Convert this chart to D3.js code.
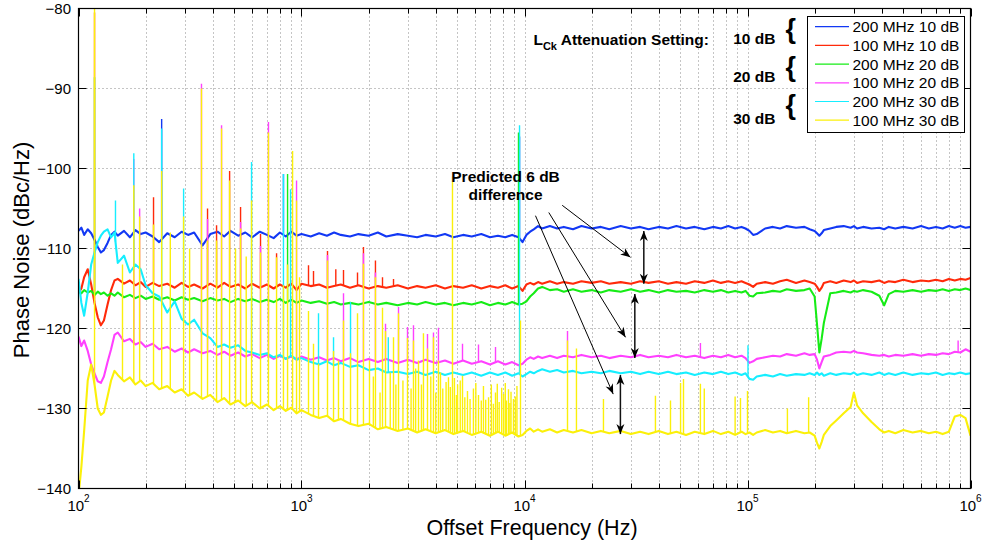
<!DOCTYPE html>
<html>
<head>
<meta charset="utf-8">
<script src="https://cdn.jsdelivr.net/npm/d3@7"></script>
<style>
  body { margin: 0; background: #fff; }
  svg { display: block; font-family: "Liberation Sans", Arial, Helvetica, sans-serif; }
</style>
</head>
<body>
<div id="chart"></div>
<script>
// ---- data (Hz, dBc/Hz) ----
const freqs = [
  100, 103, 106, 110, 114, 118, 122, 126, 130, 135,
  140, 145, 150, 160, 170, 180, 190, 200, 215, 230,
  250, 270, 290, 310, 330, 360, 390, 420, 450, 480,
  520, 560, 600, 650, 700, 750, 800, 850, 900, 950,
  1000, 1100, 1200, 1300, 1400, 1500, 1650, 1800, 2000, 2200,
  2400, 2700, 3000, 3300, 3600, 4000, 4400, 4800, 5300, 5800,
  6400, 7000, 7600, 8200, 8800, 9400, 9800, 10200, 10600, 11000,
  11500, 12000, 13000, 14000, 15000, 16500, 18000, 20000, 22000, 24000,
  27000, 30000, 33000, 36000, 40000, 44000, 48000, 53000, 58000, 64000,
  70000, 76000, 82000, 88000, 94000, 98000, 102000, 106000, 110000, 120000,
  130000, 140000, 150000, 165000, 180000, 190000, 200000, 205000, 210000, 215000,
  220000, 235000, 250000, 270000, 290000, 300000, 310000, 330000, 360000, 390000,
  410000, 430000, 460000, 500000, 550000, 600000, 650000, 700000, 750000, 800000,
  850000, 900000, 950000, 1000000
];

const seriesNames = ["200 MHz 10 dB", "100 MHz 10 dB", "200 MHz 20 dB", "100 MHz 20 dB", "200 MHz 30 dB", "100 MHz 30 dB"];
const seriesColors = ["#1238f4", "#ff2a0a", "#16ec16", "#ff40ff", "#16eeff", "#fbf00a"];

const blue200_10 = [
  -107.8,-107.4,-108.3,-107.6,-108.1,-108.9,-109.8,-110.5,-110.2,-109.3,
  -108.3,-107.9,-108.4,-107.8,-108.6,-107.7,-108.2,-108.0,-108.5,-109.2,
  -108.1,-108.6,-107.9,-108.3,-108.0,-109.6,-108.2,-107.9,-108.5,-107.8,
  -108.4,-108.0,-108.6,-107.9,-108.3,-108.7,-108.0,-108.5,-107.9,-108.4,
  -108.2,-108.5,-108.1,-108.4,-108.0,-108.3,-108.5,-108.2,-108.4,-108.0,
  -108.5,-108.2,-108.4,-108.6,-108.3,-108.5,-108.2,-108.6,-108.3,-108.5,
  -108.2,-108.6,-108.4,-108.6,-108.3,-108.6,-109.2,-108.3,-107.9,-107.6,
  -107.2,-107.5,-107.2,-107.5,-107.3,-107.6,-107.2,-107.5,-107.3,-107.6,
  -107.2,-107.5,-107.3,-107.6,-107.3,-107.5,-107.2,-107.5,-107.3,-107.6,
  -107.3,-107.5,-107.2,-107.5,-107.3,-107.5,-107.8,-108.3,-108.2,-107.5,
  -107.3,-107.5,-107.2,-107.4,-107.3,-107.6,-107.8,-108.1,-108.4,-108.1,
  -107.7,-107.5,-107.3,-107.2,-107.4,-107.2,-107.5,-107.3,-107.5,-107.4,
  -107.6,-107.3,-107.5,-107.3,-107.5,-107.2,-107.5,-107.3,-107.5,-107.2,
  -107.4,-107.2,-107.4,-107.3
];
const red100_10 = [
  -115.6,-115.0,-113.6,-112.6,-114.5,-116.8,-118.6,-119.6,-119.0,-117.0,
  -115.2,-114.0,-113.8,-114.4,-114.0,-114.6,-114.2,-114.8,-114.3,-114.7,
  -114.4,-114.9,-114.3,-114.8,-114.5,-115.0,-114.4,-114.9,-114.3,-114.8,
  -114.5,-115.0,-114.4,-114.9,-114.5,-115.0,-114.5,-114.9,-114.4,-115.2,
  -114.4,-114.7,-114.5,-114.9,-114.7,-114.5,-114.9,-114.6,-115.0,-114.7,
  -114.9,-114.6,-115.0,-114.7,-114.9,-114.6,-115.0,-114.7,-114.9,-114.6,
  -115.0,-114.7,-114.9,-114.6,-115.0,-114.7,-115.3,-114.5,-114.3,-114.5,
  -114.2,-114.4,-114.1,-114.4,-114.2,-114.4,-114.1,-114.3,-114.1,-114.4,
  -114.2,-114.4,-114.1,-114.3,-114.1,-114.4,-114.2,-114.4,-114.1,-114.3,
  -114.0,-114.3,-114.1,-114.3,-114.1,-114.3,-114.5,-114.8,-114.4,-114.2,
  -114.4,-114.1,-113.9,-114.3,-114.0,-114.2,-114.4,-114.8,-115.3,-114.9,
  -114.3,-114.1,-114.3,-114.0,-114.2,-114.0,-114.3,-114.1,-114.2,-114.0,
  -114.3,-114.1,-114.2,-113.9,-114.2,-114.0,-114.1,-113.9,-114.1,-113.8,
  -114.0,-113.8,-113.9,-113.7
];
const green200_20 = [
  -115.3,-115.6,-115.2,-115.5,-115.3,-115.8,-115.4,-115.7,-115.5,-115.9,
  -115.6,-115.9,-115.5,-116.1,-115.8,-116.2,-115.9,-116.3,-116.0,-116.4,
  -116.1,-116.5,-116.1,-116.4,-116.2,-116.6,-116.2,-116.5,-116.3,-116.7,
  -116.3,-116.6,-116.3,-116.7,-116.4,-116.7,-116.3,-116.8,-116.4,-116.8,
  -116.5,-116.8,-116.6,-116.9,-116.7,-117.0,-116.8,-117.0,-116.7,-117.0,
  -116.8,-117.1,-116.8,-117.0,-116.7,-117.0,-116.8,-117.1,-116.8,-117.0,
  -116.7,-117.1,-116.8,-117.0,-116.7,-117.0,-116.9,-116.6,-116.0,-115.6,
  -115.0,-114.8,-115.2,-115.1,-115.4,-115.1,-115.4,-115.2,-115.5,-115.2,
  -115.4,-115.1,-115.4,-115.2,-115.5,-115.2,-115.4,-115.3,-115.5,-115.2,
  -115.4,-115.2,-115.5,-115.3,-115.5,-115.3,-115.9,-116.0,-115.6,-115.5,
  -115.3,-115.4,-115.1,-115.3,-115.2,-115.0,-116.0,-119.5,-123.0,-121.3,
  -119.3,-115.6,-115.5,-115.3,-115.5,-115.3,-115.4,-115.2,-115.4,-115.9,
  -117.1,-115.7,-115.3,-115.4,-115.2,-115.4,-115.2,-115.3,-115.1,-115.3,
  -115.1,-115.2,-115.0,-115.2
];
const magenta100_20 = [
  -121.0,-122.2,-121.5,-122.8,-124.5,-125.6,-126.6,-126.8,-126.0,-124.2,
  -122.6,-120.8,-120.5,-121.6,-121.3,-122.0,-121.7,-122.3,-121.9,-122.6,
  -122.3,-122.9,-122.5,-123.0,-122.6,-123.1,-122.8,-123.3,-122.9,-123.4,
  -123.0,-123.5,-123.2,-123.7,-123.3,-123.8,-123.4,-123.8,-123.5,-123.9,
  -123.5,-123.9,-123.6,-124.0,-123.7,-124.1,-123.7,-124.2,-123.8,-124.2,
  -123.8,-124.3,-123.9,-124.3,-123.9,-124.3,-124.0,-124.4,-124.0,-124.4,
  -124.1,-124.5,-124.1,-124.5,-124.2,-124.6,-124.4,-123.9,-123.6,-123.8,
  -123.5,-123.7,-123.4,-123.7,-123.4,-123.6,-123.3,-123.6,-123.4,-123.7,
  -123.4,-123.6,-123.3,-123.6,-123.4,-123.6,-123.3,-123.6,-123.4,-123.7,
  -123.4,-123.6,-123.3,-123.6,-123.4,-123.7,-124.3,-124.1,-123.8,-123.6,
  -123.4,-123.5,-123.2,-123.4,-123.1,-123.3,-123.2,-123.9,-125.0,-124.2,
  -123.5,-123.3,-123.0,-122.9,-123.0,-122.8,-123.0,-123.1,-123.3,-123.4,
  -123.3,-123.5,-123.3,-123.4,-123.2,-123.4,-123.2,-123.3,-123.1,-123.2,
  -122.9,-123.0,-122.6,-122.9
];
const cyan200_30 = [
  -113.8,-116.8,-118.4,-115.5,-112.0,-110.5,-109.2,-108.4,-107.9,-107.6,
  -108.6,-108.0,-111.8,-110.9,-113.0,-112.0,-112.6,-114.6,-115.6,-116.0,
  -118.0,-116.6,-118.8,-119.5,-118.9,-120.6,-121.2,-122.3,-122.0,-122.4,
  -122.1,-122.8,-123.0,-123.3,-123.1,-123.6,-123.3,-123.8,-123.4,-123.9,
  -123.7,-124.2,-124.5,-124.1,-124.6,-124.3,-124.8,-124.6,-125.2,-125.0,
  -125.5,-125.4,-125.7,-125.4,-125.8,-125.4,-125.8,-125.5,-125.8,-125.5,
  -125.9,-125.5,-125.8,-125.5,-125.9,-125.6,-126.0,-125.7,-125.4,-125.6,
  -125.3,-125.1,-125.4,-125.2,-125.5,-125.3,-125.6,-125.4,-125.6,-125.3,
  -125.6,-125.4,-125.7,-125.4,-125.7,-125.4,-125.7,-125.5,-125.8,-125.5,
  -125.7,-125.4,-125.7,-125.5,-125.8,-125.6,-126.3,-126.4,-126.0,-125.8,
  -126.0,-125.7,-125.9,-125.7,-125.8,-125.6,-125.8,-125.5,-125.8,-125.6,
  -125.9,-125.6,-125.8,-125.6,-125.7,-125.5,-125.8,-125.6,-125.8,-125.5,
  -125.8,-125.6,-125.8,-125.5,-125.8,-125.6,-125.7,-125.5,-125.8,-125.6,
  -125.7,-125.5,-125.7,-125.6
];
const yellow100_30 = [
  -141.0,-137.3,-132.8,-126.5,-124.5,-127.0,-130.0,-130.8,-130.5,-128.5,
  -126.5,-125.3,-125.8,-126.6,-126.1,-127.0,-126.5,-127.2,-126.8,-127.6,
  -127.2,-128.0,-127.6,-128.4,-128.0,-128.8,-128.3,-129.2,-128.7,-129.5,
  -129.0,-129.7,-129.2,-130.0,-129.5,-130.2,-129.7,-130.3,-129.9,-130.6,
  -130.2,-130.8,-131.2,-130.9,-131.6,-131.3,-131.9,-132.2,-131.9,-132.6,
  -132.3,-132.8,-132.5,-133.0,-132.6,-133.1,-132.7,-133.2,-132.8,-133.3,
  -132.9,-133.4,-132.9,-133.4,-133.0,-133.5,-133.3,-132.8,-132.5,-132.9,
  -132.6,-132.9,-132.6,-133.0,-132.7,-133.0,-132.7,-133.1,-132.8,-133.1,
  -132.8,-133.2,-132.9,-133.2,-132.8,-133.2,-132.9,-133.3,-132.9,-133.2,
  -132.8,-133.2,-132.9,-133.3,-132.9,-133.2,-133.0,-133.3,-133.0,-132.7,
  -133.0,-132.8,-133.1,-132.8,-133.1,-133.0,-133.4,-134.3,-135.0,-134.2,
  -133.3,-132.2,-131.5,-130.6,-129.8,-128.0,-129.6,-130.6,-131.7,-132.6,
  -133.0,-132.8,-133.1,-132.7,-133.0,-132.8,-133.1,-132.9,-133.2,-132.9,
  -131.0,-130.8,-131.2,-133.4
];

// narrow spurs: [frequency, peak]
const blueSpikes = [[236, -93.8], [830, -100.7], [9500, -96.0]];
const redSpikes = [
  [118, -80.5], [217, -103.6], [379, -105.0], [416, -107.1], [476, -100.3], [533, -104.8],
  [655, -108.2], [773, -110.6], [1075, -112.1], [1132, -112.8], [1308, -110.3], [1425, -112.6],
  [1543, -112.7], [1783, -113.0], [1896, -109.8], [2146, -111.5], [2308, -113.6], [2586, -113.8]
];
const greenSpikes = [[118, -88.6], [866, -100.7], [9400, -95.5]];
const magentaSpikes = [
  [177, -98.8], [188, -105.0], [356, -89.4], [379, -106.3], [438, -94.6], [533, -106.7],
  [655, -109.7], [711, -94.2], [950, -101.5], [1308, -110.8], [1543, -115.6], [1896, -110.6],
  [2146, -113.0], [2381, -119.4], [2723, -117.3], [2988, -119.8], [3178, -119.6], [3673, -120.7],
  [3907, -120.5], [4113, -119.9], [5272, -121.9], [6219, -122.0], [7413, -122.3], [15590, -120.3],
  [61500, -121.8], [880000, -121.5]
];
const cyanSpikes = [
  [146.5, -104.0], [177, -98.1], [236, -95.0], [296, -102.5], [597, -99.2], [830, -100.7],
  [893, -102.6], [1192, -118.1], [1392, -121.1], [1659, -116.7], [2450, -121.1], [9500, -94.6],
  [100500, -122.1]
];
const yellowSpikes = [
  [118, -78.0], [157.5, -112.0], [177, -102.1], [188, -106.0], [217, -107.0], [236, -100.3],
  [258, -108.0], [296, -106.0], [315, -110.0], [356, -90.0], [379, -109.0], [416, -109.0],
  [438, -95.0], [476, -101.5], [506, -110.0], [533, -107.5], [565, -111.0], [597, -104.0],
  [655, -110.5], [711, -95.5], [773, -111.1], [830, -114.6], [866, -112.0], [912, -97.8],
  [950, -104.0], [980, -113.6], [1075, -117.8], [1132, -121.9], [1192, -124.4], [1308, -111.5],
  [1392, -122.8], [1465, -124.0], [1543, -119.0], [1659, -123.1], [1783, -118.1], [1896, -111.9],
  [2018, -124.0], [2100, -126.0], [2146, -113.6], [2250, -128.0], [2308, -117.4], [2381, -120.3],
  [2500, -125.5], [2586, -121.1], [2650, -127.0], [2723, -118.1], [2850, -126.5], [2988, -121.2],
  [3100, -127.5], [3178, -121.5], [3250, -125.0], [3347, -124.0], [3450, -127.0], [3523, -120.6],
  [3673, -122.5], [3800, -126.0], [3907, -121.1], [4000, -128.0], [4113, -124.0], [4200, -125.5],
  [4300, -127.5], [4450, -126.7], [4561, -126.1], [4650, -127.3], [4754, -101.0], [4850, -126.2],
  [4950, -128.3], [5011, -127.0], [5150, -126.5], [5272, -125.9], [5400, -128.6], [5550, -127.8],
  [5700, -128.8], [5902, -127.5], [6050, -126.8], [6219, -128.3], [6400, -129.0], [6546, -127.2],
  [6700, -128.9], [6899, -128.6], [7100, -127.0], [7250, -129.4], [7413, -128.0], [7550, -126.9],
  [7700, -129.2], [7900, -127.4], [8054, -128.2], [8200, -126.8], [8300, -129.0], [8476, -127.6],
  [8600, -129.3], [8700, -127.9], [8924, -128.8], [9100, -128.5], [9250, -127.2], [9594, -119.0],
  [15590, -121.5], [17100, -122.5], [22600, -128.8], [38650, -128.4], [45150, -129.0], [50100, -126.8],
  [51640, -126.3], [61500, -126.9], [64000, -127.5], [88000, -128.5], [93000, -128.7], [100000, -127.8],
  [151000, -130.0], [188000, -128.6]
];

const yTickValues = [-140, -130, -120, -110, -100, -90, -80];
const yTickLabels = ["\u2212140", "\u2212130", "\u2212120", "\u2212110", "\u2212100", "\u221290", "\u221280"];
const xDecades = [1e2, 1e3, 1e4, 1e5, 1e6];
const xDecadeExps = ["2", "3", "4", "5", "6"];

const attenLabels = ["10 dB", "20 dB", "30 dB"];

// ---- chart ----
const W = 987, H = 542;
const plotLeft = 78.5, plotRight = 970.5, plotTop = 8.5, plotBottom = 488.5;

const svg = d3.select("#chart").append("svg")
  .attr("width", W).attr("height", H)
  .attr("viewBox", `0 0 ${W} ${H}`);

const x = d3.scaleLog().domain([100, 1e6]).range([plotLeft, plotRight]);
const y = d3.scaleLinear().domain([-140, -80]).range([plotBottom, plotTop]);

svg.append("rect").attr("width", W).attr("height", H).attr("fill", "#fff");

const defs = svg.append("defs");
defs.append("clipPath").attr("id", "plot-clip")
  .append("rect").attr("x", plotLeft).attr("y", plotTop)
  .attr("width", plotRight - plotLeft).attr("height", plotBottom - plotTop);

defs.append("marker")
  .attr("id", "head")
  .attr("viewBox", "-1 -5 12 10")
  .attr("refX", 10).attr("refY", 0)
  .attr("markerWidth", 12).attr("markerHeight", 10)
  .attr("markerUnits", "userSpaceOnUse")
  .attr("orient", "auto-start-reverse")
  .append("path")
  .attr("d", "M0,-4 L10,0 L0,4 L3,0 Z")
  .attr("fill", "#000");

// grid
const grid = svg.append("g")
  .attr("stroke", "#8a8a8a").attr("stroke-width", 1).attr("stroke-dasharray", "1,3");
const xGridTicks = x.ticks().filter(t => t > 100 && t < 1e6);
grid.selectAll("line.gx").data(xGridTicks).enter().append("line")
  .attr("x1", d => Math.round(x(d)) + 0.5).attr("x2", d => Math.round(x(d)) + 0.5)
  .attr("y1", plotTop).attr("y2", plotBottom);
grid.selectAll("line.gy").data(yTickValues.filter(v => v > -140 && v < -80)).enter().append("line")
  .attr("x1", plotLeft).attr("x2", plotRight)
  .attr("y1", d => y(d)).attr("y2", d => y(d));

// traces
const seriesValues = [blue200_10, red100_10, green200_20, magenta100_20, cyan200_30, yellow100_30];
const seriesSpikes = [blueSpikes, redSpikes, greenSpikes, magentaSpikes, cyanSpikes, yellowSpikes];

const line = d3.line().x(d => x(d[0])).y(d => y(d[1]));

function baseAt(vals, f) {
  const i = d3.bisectRight(freqs, f);
  if (i <= 0) return vals[0];
  if (i >= freqs.length) return vals[vals.length - 1];
  const t = (Math.log(f) - Math.log(freqs[i - 1])) / (Math.log(freqs[i]) - Math.log(freqs[i - 1]));
  return vals[i - 1] + t * (vals[i] - vals[i - 1]);
}

const plot = svg.append("g").attr("clip-path", "url(#plot-clip)");
seriesValues.forEach((vals, s) => {
  const g = plot.append("g");
  g.append("path")
    .datum(freqs.map((f, i) => [f, vals[i]]))
    .attr("d", line)
    .attr("fill", "none")
    .attr("stroke", seriesColors[s])
    .attr("stroke-width", 2.1)
    .attr("stroke-linejoin", "round");
  g.selectAll("line.spike").data(seriesSpikes[s]).enter().append("line")
    .attr("x1", d => x(d[0])).attr("x2", d => x(d[0]))
    .attr("y1", d => y(baseAt(vals, d[0]))).attr("y2", d => y(d[1]))
    .attr("stroke", seriesColors[s])
    .attr("stroke-width", 1.4);
});

// axes box + ticks
const axes = svg.append("g").attr("stroke", "#000").attr("fill", "none");
axes.append("rect").attr("x", plotLeft).attr("y", plotTop)
  .attr("width", plotRight - plotLeft).attr("height", plotBottom - plotTop)
  .attr("stroke-width", 1.2);

x.ticks().forEach(t => {
  const major = xDecades.includes(t);
  const len = major ? 8 : 5;
  const px = Math.round(x(t)) + 0.5;
  axes.append("line").attr("x1", px).attr("x2", px).attr("y1", plotBottom).attr("y2", plotBottom - len);
  axes.append("line").attr("x1", px).attr("x2", px).attr("y1", plotTop).attr("y2", plotTop + len);
});
yTickValues.forEach(v => {
  axes.append("line").attr("x1", plotLeft).attr("x2", plotLeft + 8).attr("y1", y(v)).attr("y2", y(v));
  axes.append("line").attr("x1", plotRight).attr("x2", plotRight - 8).attr("y1", y(v)).attr("y2", y(v));
});

// tick labels
svg.append("g").selectAll("text").data(yTickValues).enter().append("text")
  .attr("x", 71).attr("y", d => y(d)).attr("dy", "0.36em")
  .attr("text-anchor", "end").attr("font-size", 15).attr("fill", "#000")
  .text((d, i) => yTickLabels[i]);

const xl = svg.append("g").selectAll("text").data(xDecades).enter().append("text")
  .attr("x", d => x(d)).attr("y", 511)
  .attr("text-anchor", "middle").attr("font-size", 15).attr("fill", "#000");
xl.append("tspan").text("10");
xl.append("tspan").attr("font-size", 10).attr("dy", -9).text((d, i) => xDecadeExps[i]);

// axis titles
svg.append("text")
  .attr("x", 532).attr("y", 535)
  .attr("text-anchor", "middle").attr("font-size", 21.5).attr("fill", "#000")
  .text("Offset Frequency (Hz)");
svg.append("text")
  .attr("transform", "translate(28.5,250) rotate(-90)")
  .attr("text-anchor", "middle").attr("font-size", 22).attr("fill", "#000")
  .text("Phase Noise (dBc/Hz)");

// annotations (placed in data units)
const ann = svg.append("g").attr("font-weight", "bold").attr("fill", "#000");
const lck = ann.append("text").attr("x", x(10970)).attr("y", y(-84.5)).attr("font-size", 15.5);
lck.append("tspan").text("L");
lck.append("tspan").attr("font-size", 11).attr("dy", 5).text("Ck");
lck.append("tspan").attr("dy", -5).text(" Attenuation Setting:");

const attenY = [-84.4, -89.2, -94.4];
const braceY = [-83.7, -88.4, -93.2];
attenLabels.forEach((t, i) => {
  ann.append("text").attr("x", x(86270)).attr("y", y(attenY[i])).attr("font-size", 15.5).text(t);
  ann.append("text").attr("x", x(148000)).attr("y", y(braceY[i])).attr("font-size", 27).text("{");
});

ann.append("text").attr("x", x(8222)).attr("y", y(-101.65))
  .attr("text-anchor", "middle").attr("font-size", 15.5).text("Predicted 6 dB");
ann.append("text").attr("x", x(8222)).attr("y", y(-103.9))
  .attr("text-anchor", "middle").attr("font-size", 15.5).text("difference");

const arrows = [
  [[14760, -104.6], [29870, -111.1]],
  [[12850, -105.5], [28380, -121.1]],
  [[11200, -105.9], [24990, -128.2]]
];
svg.append("g").selectAll("line").data(arrows).enter().append("line")
  .attr("x1", d => x(d[0][0])).attr("y1", d => y(d[0][1]))
  .attr("x2", d => x(d[1][0])).attr("y2", d => y(d[1][1]))
  .attr("stroke", "#000").attr("stroke-width", 1)
  .attr("marker-end", "url(#head)");

const gaps = [[34280, -107.8, -114.4], [31240, -115.7, -123.7], [26920, -125.8, -133.2]];
svg.append("g").selectAll("line").data(gaps).enter().append("line")
  .attr("x1", d => x(d[0])).attr("x2", d => x(d[0]))
  .attr("y1", d => y(d[1])).attr("y2", d => y(d[2]))
  .attr("stroke", "#111").attr("stroke-width", 1.5)
  .attr("marker-start", "url(#head)").attr("marker-end", "url(#head)");

// legend
const legend = svg.append("g");
legend.append("rect").attr("x", 807.5).attr("y", 16.5).attr("width", 157).attr("height", 116)
  .attr("fill", "#fff").attr("stroke", "#000").attr("stroke-width", 1);
seriesNames.forEach((name, i) => {
  const ly = 26.7 + i * 18.7;
  legend.append("line").attr("x1", 815).attr("x2", 849).attr("y1", ly).attr("y2", ly)
    .attr("stroke", seriesColors[i]).attr("stroke-width", 1.2);
  legend.append("text").attr("x", 852.5).attr("y", ly).attr("dy", "0.36em")
    .attr("font-size", 15.5).attr("fill", "#000").text(name);
});
</script>
</body>
</html>
